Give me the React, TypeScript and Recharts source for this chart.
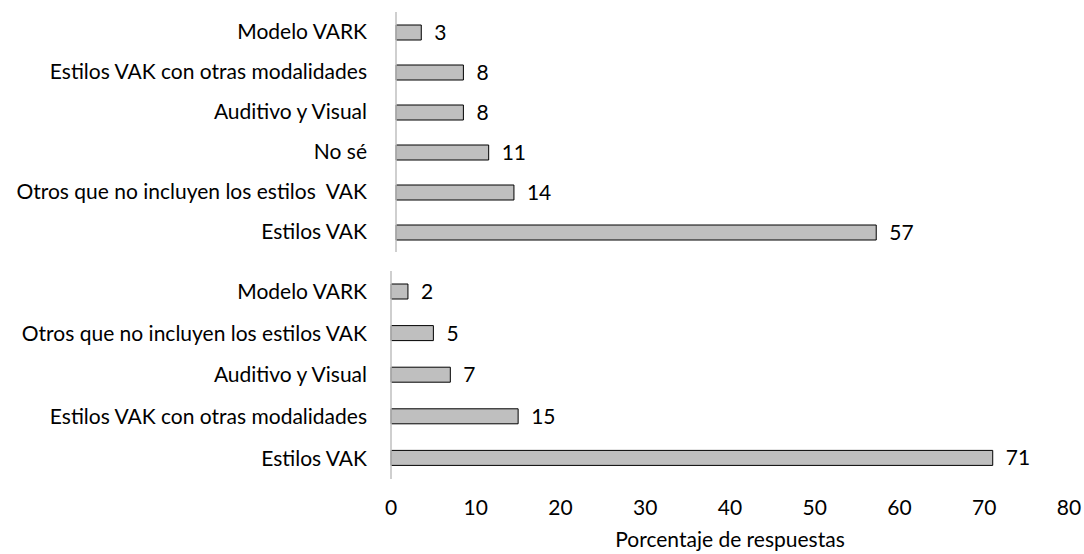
import { Bar, BarChart, LabelList, XAxis, YAxis } from "recharts";

const topCategories = [
  "Modelo VARK",
  "Estilos VAK con otras modalidades",
  "Auditivo y Visual",
  "No sé",
  "Otros que no incluyen los estilos\u00a0 VAK",
  "Estilos VAK",
];
const topValues = [3, 8, 8, 11, 14, 57];

const bottomCategories = [
  "Modelo VARK",
  "Otros que no incluyen los estilos VAK",
  "Auditivo y Visual",
  "Estilos VAK con otras modalidades",
  "Estilos VAK",
];
const bottomValues = [2, 5, 7, 15, 71];

const xTicks = [0, 10, 20, 30, 40, 50, 60, 70, 80];

const FONT = "Lato, 'Open Sans', sans-serif";
const textStyle = { fill: "#000", fontSize: 21, fontFamily: FONT };

const topData = topCategories.map((name, i) => ({ name, value: topValues[i] }));
const bottomData = bottomCategories.map((name, i) => ({ name, value: bottomValues[i] }));

export default function App() {
  return (
    <div style={{ position: "absolute", left: 0, top: 0, width: 1084, height: 554, background: "#fff" }}>
      <div style={{ position: "absolute", left: 0, top: 0 }}>
        <BarChart
          width={1084}
          height={262}
          data={topData}
          layout="vertical"
          margin={{ top: 12, right: 14, left: 0, bottom: 10 }}
        >
          <XAxis type="number" domain={[0, 80]} ticks={xTicks} hide />
          <YAxis
            type="category"
            dataKey="name"
            width={396}
            tickLine={false}
            tickSize={0}
            tickMargin={29}
            axisLine={{ stroke: "#bfbfbf", strokeWidth: 1.5 }}
            tick={textStyle}
            interval={0}
          />
          <Bar dataKey="value" fill="#bfbfbf" stroke="#000" strokeWidth={1} barSize={15} isAnimationActive={false}>
            <LabelList dataKey="value" position="right" offset={13} style={textStyle} />
          </Bar>
        </BarChart>
      </div>
      <div style={{ position: "absolute", left: 0, top: 260 }}>
        <BarChart
          width={1084}
          height={294}
          data={bottomData}
          layout="vertical"
          margin={{ top: 11, right: 15, left: 0, bottom: 0 }}
        >
          <XAxis
            type="number"
            domain={[0, 80]}
            ticks={xTicks}
            axisLine={false}
            tickLine={false}
            tickSize={0}
            tickMargin={21}
            height={75}
            tick={textStyle}
            label={{ value: "Porcentaje de respuestas", position: "insideBottom", offset: 7, style: textStyle }}
          />
          <YAxis
            type="category"
            dataKey="name"
            width={391}
            tickLine={false}
            tickSize={0}
            tickMargin={24}
            axisLine={{ stroke: "#bfbfbf", strokeWidth: 1.5 }}
            tick={textStyle}
            interval={0}
          />
          <Bar dataKey="value" fill="#bfbfbf" stroke="#000" strokeWidth={1} barSize={15} isAnimationActive={false}>
            <LabelList dataKey="value" position="right" offset={13} style={textStyle} />
          </Bar>
        </BarChart>
      </div>
    </div>
  );
}
